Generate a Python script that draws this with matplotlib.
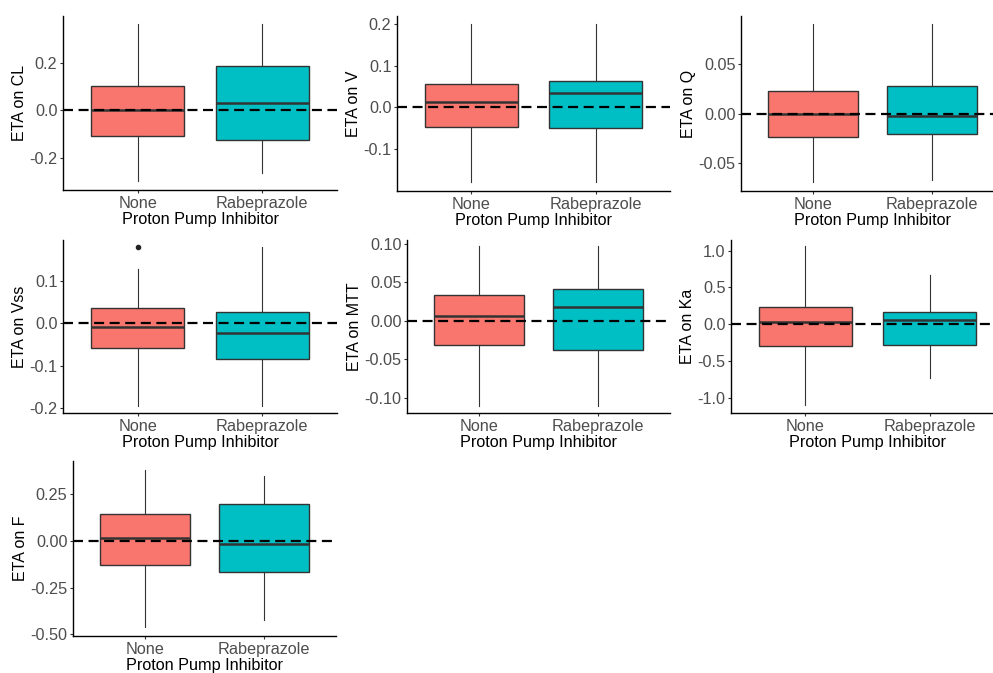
import matplotlib
matplotlib.use("Agg")
import matplotlib.pyplot as plt

plt.rcParams['font.family'] = ['Liberation Sans', 'DejaVu Sans']

groups = ["None", "Rabeprazole"]
fills = ["#F8766D", "#00BFC4"]

# box stats per panel: [lower whisker, q1, median, q3, upper whisker]
cl_none = [-0.297, -0.109, 0.002, 0.103, 0.364]
cl_rabe = [-0.265, -0.126, 0.030, 0.187, 0.364]
v_none = [-0.179, -0.046, 0.014, 0.057, 0.200]
v_rabe = [-0.179, -0.049, 0.034, 0.063, 0.200]
q_none = [-0.069, -0.0236, 0.0, 0.0228, 0.0907]
q_rabe = [-0.0674, -0.0202, -0.0024, 0.0276, 0.0902]
vss_none = [-0.195, -0.058, -0.008, 0.035, 0.127]
vss_rabe = [-0.195, -0.084, -0.023, 0.027, 0.179]
vss_none_out = [0.180]
mtt_none = [-0.111, -0.031, 0.0065, 0.0335, 0.0974]
mtt_rabe = [-0.111, -0.038, 0.018, 0.0418, 0.0974]
ka_none = [-1.105, -0.30, 0.027, 0.24, 1.064]
ka_rabe = [-0.727, -0.286, 0.063, 0.163, 0.672]
f_none = [-0.459, -0.127, 0.018, 0.146, 0.380]
f_rabe = [-0.423, -0.168, -0.018, 0.200, 0.350]

cl_ticks = [-0.2, 0.0, 0.2]
v_ticks = [-0.1, 0.0, 0.1, 0.2]
q_ticks = [-0.05, 0.0, 0.05]
vss_ticks = [-0.2, -0.1, 0.0, 0.1]
mtt_ticks = [-0.10, -0.05, 0.0, 0.05, 0.10]
ka_ticks = [-1.0, -0.5, 0.0, 0.5, 1.0]
f_ticks = [-0.50, -0.25, 0.0, 0.25]

panels = [
    ("CL", cl_none, cl_rabe, [], cl_ticks, "{:.1f}", (-0.335, 0.398), (63, 337, 16, 190)),
    ("V", v_none, v_rabe, [], v_ticks, "{:.1f}", (-0.200, 0.219), (397, 670, 16, 191)),
    ("Q", q_none, q_rabe, [], q_ticks, "{:.2f}", (-0.078, 0.0985), (741, 1004, 16, 191)),
    ("Vss", vss_none, vss_rabe, vss_none_out, vss_ticks, "{:.1f}", (-0.212, 0.196), (63, 337, 240, 413)),
    ("MTT", mtt_none, mtt_rabe, [], mtt_ticks, "{:.2f}", (-0.120, 0.105), (407, 670, 240, 413)),
    ("Ka", ka_none, ka_rabe, [], ka_ticks, "{:.1f}", (-1.21, 1.146), (731, 1004, 240, 413)),
    ("F", f_none, f_rabe, [], f_ticks, "{:.2f}", (-0.509, 0.428), (73, 336, 461, 636)),
]

W, H = 993, 673
fig = plt.figure(figsize=(W / 100, H / 100), dpi=100)

for name, s_none, s_rabe, outs, ticks, fmt, ylim, (l, r, t, b) in panels:
    ax = fig.add_axes([l / W, 1 - b / H, (r - l) / W, (b - t) / H])
    stats = []
    for s, fl in zip([s_none, s_rabe], [outs, []]):
        stats.append(dict(whislo=s[0], q1=s[1], med=s[2], q3=s[3], whishi=s[4], fliers=fl))
    bp = ax.bxp(stats, positions=[1, 2], widths=0.75, patch_artist=True, showcaps=False,
                boxprops=dict(edgecolor="#333333", linewidth=1.0),
                whiskerprops=dict(color="#333333", linewidth=0.8),
                medianprops=dict(color="#333333", linewidth=1.8),
                flierprops=dict(marker="o", markersize=3, markerfacecolor="#222222",
                                markeredgecolor="#222222"))
    for patch, c in zip(bp["boxes"], fills):
        patch.set_facecolor(c)
    ax.axhline(0, color="black", linewidth=1.6, dashes=(4.5, 2.5), zorder=5)
    ax.set_xlim(0.4, 2.6)
    ax.set_ylim(*ylim)
    ax.set_xticks([1, 2])
    ax.set_xticklabels(groups)
    ax.set_yticks(ticks)
    ax.set_yticklabels([fmt.format(v) for v in ticks])
    for sp in ["top", "right"]:
        ax.spines[sp].set_visible(False)
    for sp in ["left", "bottom"]:
        ax.spines[sp].set_color("black")
        ax.spines[sp].set_linewidth(1.0)
    ax.tick_params(length=2.5, width=0.8, color="#333333", labelcolor="#4D4D4D",
                   labelsize=11.7, pad=1.5)
    ax.set_xlabel("Proton Pump Inhibitor", fontsize=11.7, labelpad=1)
    ax.set_ylabel("ETA on " + name, fontsize=11.5, labelpad=1.5)

plt.savefig("out.png", dpi=100)
